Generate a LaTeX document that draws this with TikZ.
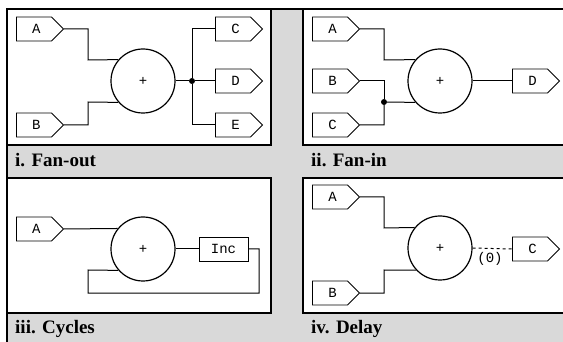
\documentclass[tikz,border=0pt]{standalone}
\usepackage{fontspec}
\setmainfont{Liberation Serif}
\setmonofont{Liberation Mono}
\usetikzlibrary{shapes.symbols}
\definecolor{bg}{RGB}{217,217,217}
\begin{document}
\begin{tikzpicture}[x=1pt,y=-1pt,
 port/.style={signal, signal to=east, signal pointer angle=90, draw, fill=white, line width=0.9pt, minimum width=47pt, minimum height=24pt, inner sep=0pt, font=\ttfamily\fontsize{14}{14}\selectfont, anchor=west, execute at begin node={\hspace{5pt}}},
 boxnode/.style={rectangle, draw, fill=white, line width=0.9pt, minimum width=49pt, minimum height=24pt, inner sep=0pt, font=\ttfamily\fontsize{14}{14}\selectfont},
 adder/.style={circle, draw, fill=white, line width=1.2pt, minimum size=64pt, inner sep=0pt, font=\ttfamily\fontsize{14}{14}\selectfont},
 wire/.style={line width=1pt},
 dot/.style={circle, fill=black, minimum size=6pt, inner sep=0pt},
 panel/.style={draw, fill=white, line width=1.3pt},
 captext/.style={anchor=base west, inner sep=0pt, font=\bfseries\fontsize{19}{19}\selectfont}]
\clip (0,0) rectangle (563,342);
\fill[bg] (7,9) rectangle (563,342);
\draw[line width=1.3pt] (7,342) -- (7,9) -- (563,9);
\draw[panel] (7,9) rectangle (271,145);
\draw[panel] (303,9) rectangle (570,145);
\draw[panel] (7,178) rectangle (271,313);
\draw[panel] (303,178) rectangle (570,313);
\node[captext] (t1) at (15,167) {i. Fan-out};
\node[captext] (t2) at (311,167) {ii. Fan-in};
\node[captext] (t3) at (15,334) {iii. Cycles};
\node[captext] (t4) at (311,334) {iv. Delay};
% panel i
\node[port] (a1) at (16,29) {A};
\node[port] (b1) at (16,125) {B};
\node[adder] (s1) at (143,81) {+};
\node[port] (c1) at (215,29) {C};
\node[port] (d1) at (215,81) {D};
\node[port] (e1) at (215,125) {E};
\node[dot] (j1) at (192,81) {};
\draw[wire] (a1.east) -| (88,60) -- (s1.139);
\draw[wire] (b1.east) -| (88,102) -- (s1.221);
\draw[wire] (s1.east) -- (j1);
\draw[wire] (c1.west) -| (j1) |- (e1.west);
\draw[wire] (j1) -- (d1.west);
% panel ii
\node[port] (a2) at (312,29) {A};
\node[port] (b2) at (312,81) {B};
\node[port] (c2) at (312,125) {C};
\node[adder] (s2) at (440,81) {+};
\node[port] (d2) at (512,81) {D};
\node[dot] (j2) at (384,102) {};
\draw[wire] (a2.east) -| (384,60) -- (s2.139);
\draw[wire] (b2.east) -| (j2);
\draw[wire] (c2.east) -| (j2) -- (s2.221);
\draw[wire] (s2.east) -- (d2.west);
% panel iii
\node[port] (a3) at (16,229) {A};
\node[adder] (s3) at (143,249) {+};
\node[boxnode] (inc) at (223.5,249) {Inc};
\draw[wire] (a3.east) -- (s3.141.3);
\draw[wire] (s3.east) -- (inc.west);
\draw[wire] (inc.east) -| (259,293) -| (88,270) -- (s3.221);
% panel iv
\node[port] (a4) at (312,197) {A};
\node[port] (b4) at (312,293) {B};
\node[adder] (s4) at (440,248) {+};
\node[port] (c4) at (512,249) {C};
\draw[wire] (a4.east) -| (384,228) -- (s4.141);
\draw[wire] (b4.east) -| (384,270) -- (s4.223);
\draw[wire, dash pattern=on 3pt off 3pt] (s4.east) -- (c4.west);
\node[font=\ttfamily\fontsize{14}{14}\selectfont, inner sep=0pt] (d0) at (490,259) {(0)};
\end{tikzpicture}
\end{document}
